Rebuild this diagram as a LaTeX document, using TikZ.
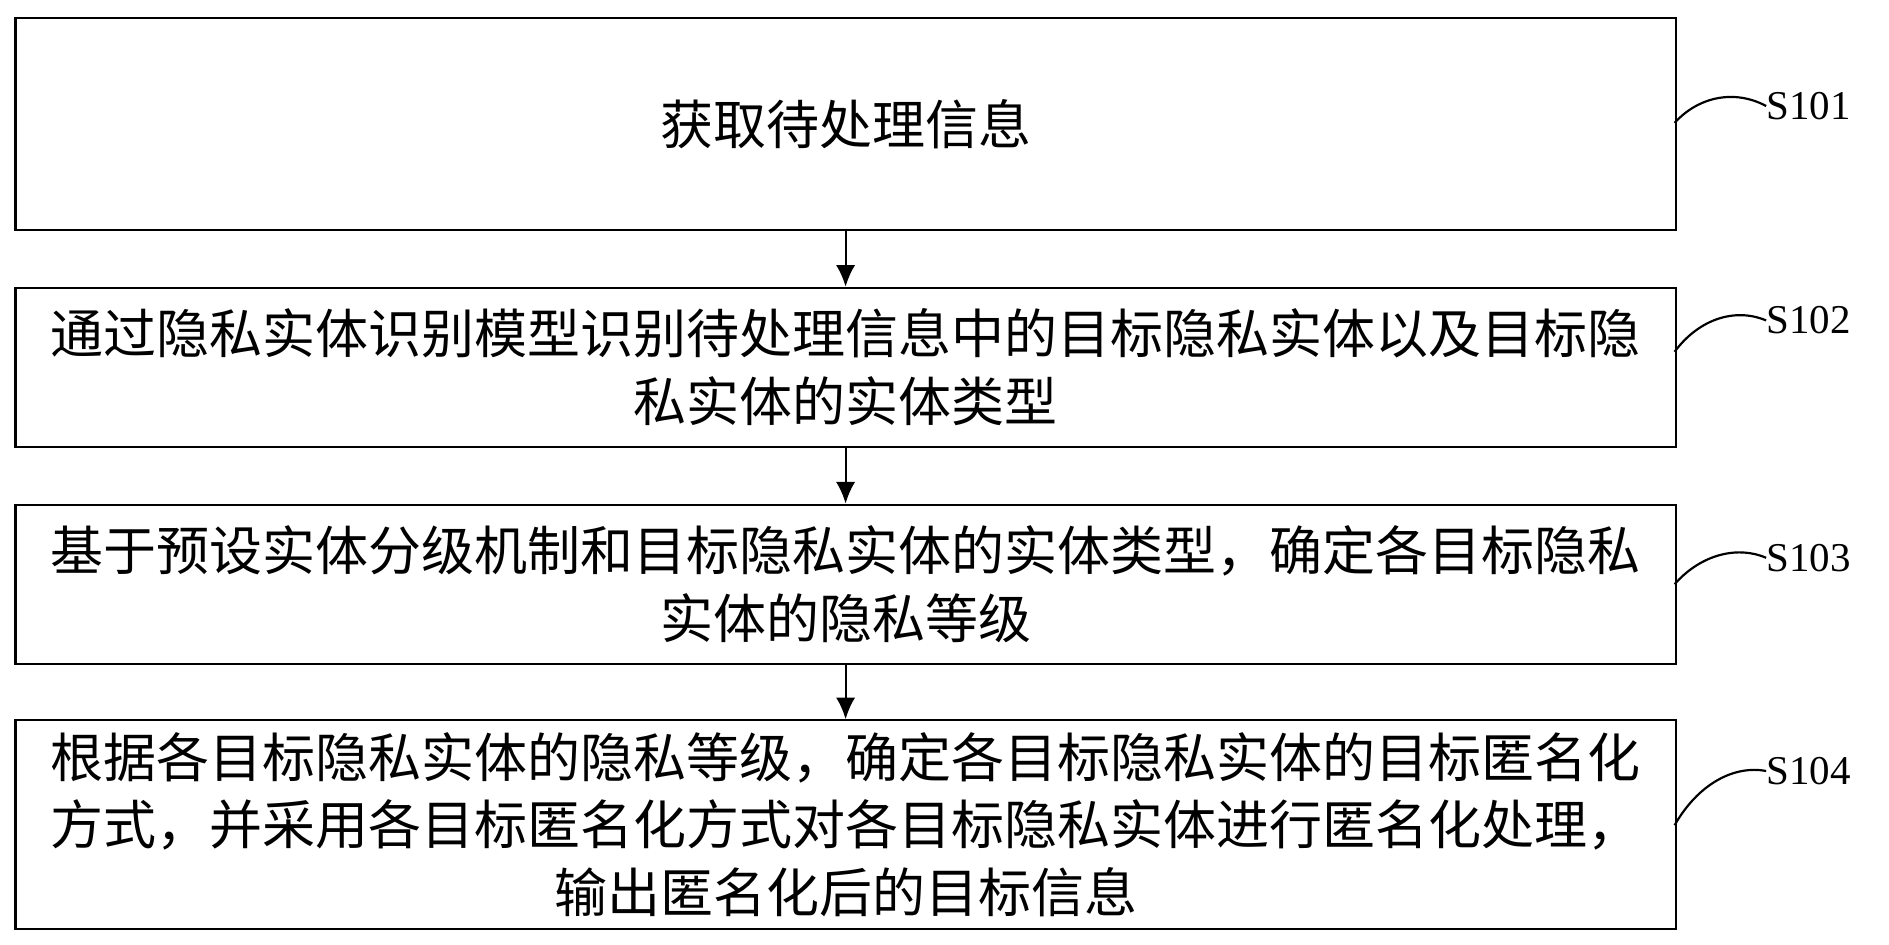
\documentclass[tikz,border=0pt]{standalone}
\usepackage{fontspec}
\setmainfont{Liberation Serif}
\newfontfamily\cjk{Noto Sans CJK SC}
\usetikzlibrary{arrows.meta}
\begin{document}
\begin{tikzpicture}[x=1pt,y=-1pt,
  box/.style={draw,line width=1.8pt,minimum width=1378pt,anchor=north west,inner sep=0pt,align=center,font=\cjk\fontsize{44}{56}\selectfont},
  arr/.style={line width=1.8pt,-{Latex[length=18pt,width=16pt]}},
  lab/.style={font=\fontsize{34}{34}\selectfont,anchor=west,inner sep=0pt},
  cur/.style={line width=1.8pt}]
\useasboundingbox (0,0) rectangle (1568,784);
\node[box,minimum height=176pt] (b1) at (12,14) {获取待处理信息};
\node[box,minimum height=132pt] (b2) at (12,238) {通过隐私实体识别模型识别待处理信息中的目标隐私实体以及目标隐\\私实体的实体类型};
\node[box,minimum height=132pt] (b3) at (12,418) {基于预设实体分级机制和目标隐私实体的实体类型，确定各目标隐私\\实体的隐私等级};
\node[box,minimum height=173pt] (b4) at (12,597) {根据各目标隐私实体的隐私等级，确定各目标隐私实体的目标匿名化\\方式，并采用各目标匿名化方式对各目标隐私实体进行匿名化处理，\\输出匿名化后的目标信息};
\draw[arr] (b1.south) -- (b2.north);
\draw[arr] (b2.south) -- (b3.north);
\draw[arr] (b3.south) -- (b4.north);
\node[lab] (l1) at (1466,88) {S101};
\node[lab] (l2) at (1466,266) {S102};
\node[lab] (l3) at (1466,463) {S103};
\node[lab] (l4) at (1466,640) {S104};
\draw[cur] (1390,102) .. controls (1410,80) and (1440,74) .. (l1.west);
\draw[cur] (1390,292) .. controls (1410,265) and (1440,255) .. (l2.west);
\draw[cur] (1390,485) .. controls (1410,462) and (1440,452) .. (l3.west);
\draw[cur] (1390,685) .. controls (1410,650) and (1440,635) .. (l4.west);
\end{tikzpicture}
\end{document}
